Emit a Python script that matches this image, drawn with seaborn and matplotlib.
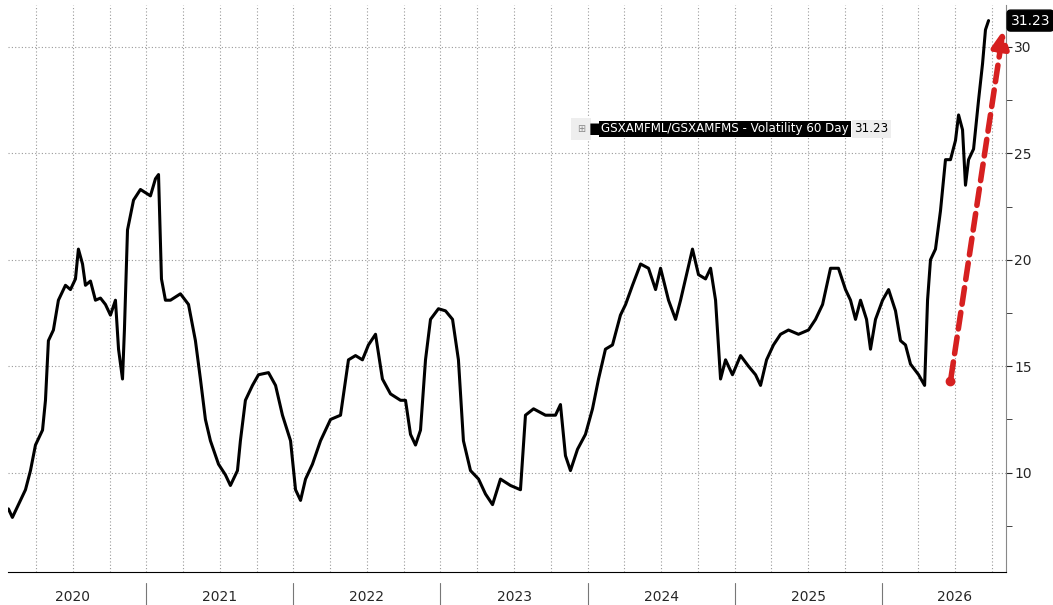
import numpy as np
import pandas as pd
import seaborn as sns
import matplotlib.pyplot as plt
from matplotlib.ticker import MultipleLocator

# Fractional years since 2020 and 60-day volatility values
t = [0.061, 0.088, 0.129, 0.177, 0.211, 0.245, 0.293, 0.313, 0.333, 0.367, 0.401, 0.449, 0.483,
     0.517, 0.537, 0.565, 0.585, 0.619, 0.653, 0.687, 0.721, 0.755, 0.789, 0.810, 0.837, 0.850,
     0.871, 0.912, 0.959, 1.027, 1.061, 1.082, 1.102, 1.129, 1.163, 1.231, 1.286, 1.333, 1.367,
     1.401, 1.435, 1.490, 1.537, 1.571, 1.619, 1.639, 1.673, 1.721, 1.762, 1.830, 1.878, 1.925,
     1.980, 2.014, 2.048, 2.082, 2.129, 2.184, 2.252, 2.320, 2.374, 2.422, 2.469, 2.510, 2.558,
     2.605, 2.660, 2.728, 2.762, 2.796, 2.830, 2.864, 2.898, 2.932, 2.986, 3.034, 3.082, 3.122,
     3.156, 3.204, 3.259, 3.306, 3.354, 3.408, 3.476, 3.544, 3.578, 3.633, 3.714, 3.782, 3.816,
     3.850, 3.884, 3.932, 3.986, 4.034, 4.075, 4.122, 4.170, 4.224, 4.259, 4.306, 4.361, 4.415,
     4.463, 4.497, 4.551, 4.599, 4.633, 4.667, 4.714, 4.755, 4.803, 4.837, 4.871, 4.905, 4.939,
     4.986, 5.041, 5.095, 5.143, 5.177, 5.218, 5.265, 5.313, 5.367, 5.435, 5.503, 5.551, 5.599,
     5.653, 5.707, 5.755, 5.789, 5.823, 5.857, 5.898, 5.925, 5.959, 6.007, 6.048, 6.095, 6.129,
     6.163, 6.197, 6.252, 6.293, 6.313, 6.333, 6.367, 6.401, 6.435, 6.469, 6.503, 6.524, 6.551,
     6.571, 6.592, 6.626, 6.660, 6.687, 6.707, 6.728]
vol = [8.3, 7.9, 8.5, 9.2, 10.1, 11.3, 12.0, 13.4, 16.2, 16.7, 18.1, 18.8, 18.6,
       19.1, 20.5, 19.8, 18.8, 19.0, 18.1, 18.2, 17.9, 17.4, 18.1, 15.8, 14.4, 16.7,
       21.4, 22.8, 23.3, 23.0, 23.8, 24.0, 19.1, 18.1, 18.1, 18.4, 17.9, 16.2, 14.4,
       12.5, 11.5, 10.4, 9.9, 9.4, 10.1, 11.5, 13.4, 14.1, 14.6, 14.7, 14.1, 12.7,
       11.5, 9.2, 8.7, 9.7, 10.4, 11.5, 12.5, 12.7, 15.3, 15.5, 15.3, 16.0, 16.5,
       14.4, 13.7, 13.4, 13.4, 11.8, 11.3, 12.0, 15.3, 17.2, 17.7, 17.6, 17.2, 15.3,
       11.5, 10.1, 9.7, 9.0, 8.5, 9.7, 9.4, 9.2, 12.7, 13.0, 12.7, 12.7, 13.2,
       10.8, 10.1, 11.1, 11.8, 13.0, 14.4, 15.8, 16.0, 17.4, 17.9, 18.8, 19.8, 19.6,
       18.6, 19.6, 18.1, 17.2, 18.1, 19.1, 20.5, 19.3, 19.1, 19.6, 18.1, 14.4, 15.3,
       14.6, 15.5, 15.0, 14.6, 14.1, 15.3, 16.0, 16.5, 16.7, 16.5, 16.7, 17.2, 17.9,
       19.6, 19.6, 18.6, 18.1, 17.2, 18.1, 17.2, 15.8, 17.2, 18.1, 18.6, 17.6, 16.2,
       16.0, 15.1, 14.6, 14.1, 18.1, 20.0, 20.5, 22.3, 24.7, 24.7, 25.6, 26.8, 26.1,
       23.5, 24.7, 25.2, 27.5, 29.2, 30.8, 31.23]
years = [2020, 2021, 2022, 2023, 2024, 2025, 2026]
last_val = 31.23
series_name = "GSXAMFML/GSXAMFMS - Volatility 60 Day"

df = pd.DataFrame({"year": 2020 + np.array(t), "vol": vol})

sns.set_style("white")
fig = plt.figure(figsize=(10.53, 6.05), dpi=100)
ax = fig.add_axes([0.008, 0.055, 0.947, 0.937])

sns.lineplot(data=df, x="year", y="vol", ax=ax, color="black", linewidth=2.2)

ax.set_xlim(2020.061, 2026.844)
ax.set_ylim(5.35, 31.97)

# dotted grid: quarterly vertical, every 5 horizontal
for q in np.arange(2020.25, 2026.9, 0.25):
    ax.axvline(q, color="#999999", ls=(0, (1, 2)), lw=0.8, zorder=0)
for yv in [10, 15, 20, 25, 30]:
    ax.axhline(yv, color="#999999", ls=(0, (1, 2)), lw=0.8, zorder=0)

for s in ["top", "left"]:
    ax.spines[s].set_visible(False)
ax.spines["bottom"].set_color("black")
ax.spines["right"].set_color("#888888")

ax.xaxis.set_major_locator(MultipleLocator(0.25))
ax.xaxis.set_minor_locator(MultipleLocator(1 / 12))
ax.tick_params(axis="x", which="major", direction="in", length=4, labelbottom=False)
ax.tick_params(axis="x", which="minor", direction="in", length=2)
ax.set_xlabel("")

ax.yaxis.tick_right()
ax.yaxis.set_minor_locator(MultipleLocator(2.5))
ax.set_yticks([10, 15, 20, 25, 30])
ax.tick_params(axis="y", which="both", direction="out", length=4, labelsize=10, pad=2)
ax.set_ylabel("")

trans = ax.get_xaxis_transform()
for yr in years:
    ax.text(yr + 0.5, -0.045, str(yr), transform=trans, ha="center", va="center", fontsize=10)
    if yr > 2020:
        ax.plot([yr, yr], [-0.02, -0.06], transform=trans, color="#777777", lw=0.8, clip_on=False)

# red dashed arrow
ax.plot([2026.469], [14.3], "o", color="#d62020", ms=6)
ax.annotate("", xy=(2026.83, 30.9), xytext=(2026.469, 14.3),
            arrowprops=dict(arrowstyle="-|>,head_length=1.0,head_width=0.5", color="#d62020",
                            lw=4, ls=(0, (3, 1.5))))

# last value tag
ax.text(1.005, last_val, f"{last_val:.2f}", transform=ax.get_yaxis_transform(), color="white",
        fontsize=10, va="center", ha="left",
        bbox=dict(boxstyle="round,pad=0.25", fc="black", ec="black"))

# legend box
fig.text(0.548, 0.787, "⊞", fontsize=7, color="#888888", va="center",
         bbox=dict(boxstyle="square,pad=0.6", fc="#eeeeee", ec="none"))
fig.text(0.559, 0.787, "■", fontsize=11, color="black", va="center")
name_txt = fig.text(0.571, 0.787, series_name, fontsize=8.6, color="white", va="center",
                    bbox=dict(boxstyle="square,pad=0.15", fc="black", ec="none"))
fig.text(0.0, 0.0, "")
ax.annotate(f"{last_val:.2f}", xy=(1, 0.5), xycoords=name_txt, xytext=(4, 0),
            textcoords="offset points", fontsize=8.6, color="black", va="center", ha="left",
            bbox=dict(boxstyle="square,pad=0.2", fc="#eeeeee", ec="none"))

fig.savefig("out.png", dpi=100)
